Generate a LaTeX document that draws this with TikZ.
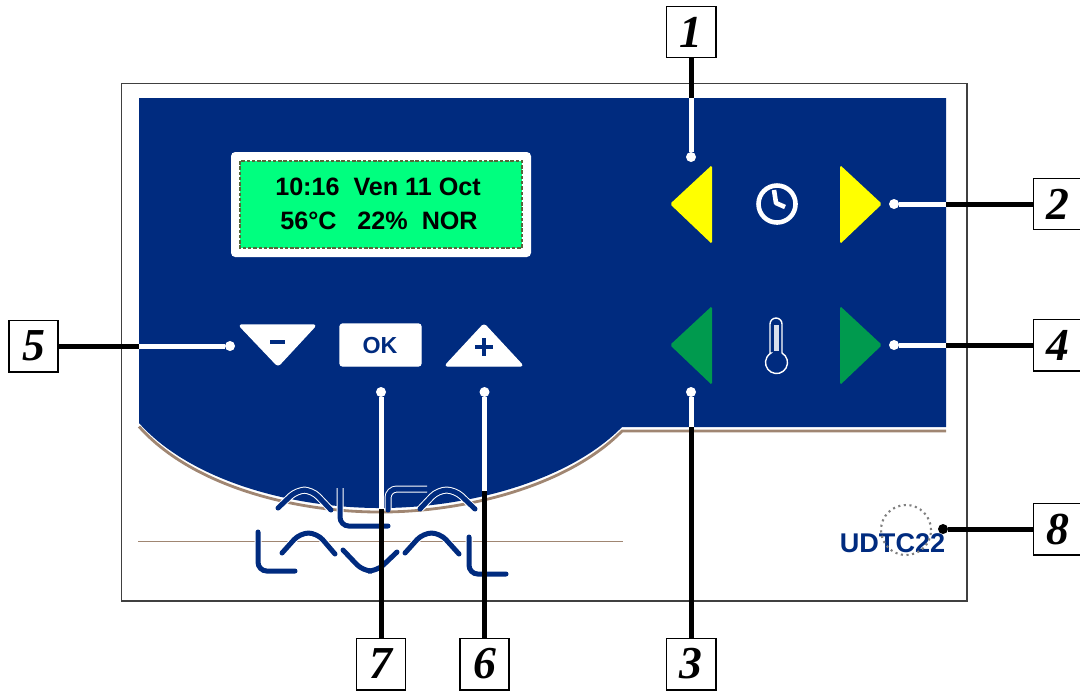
\documentclass[tikz,border=0pt]{standalone}
\usepackage{fontspec}
\setmainfont{Liberation Sans}
\newfontfamily\calloutfont{Liberation Serif}
\definecolor{panelblue}{HTML}{002B7F}
\definecolor{lcdgreen}{HTML}{00FF7F}
\definecolor{lcdedge}{HTML}{56663A}
\definecolor{trimtan}{HTML}{A08672}
\definecolor{btngreen}{HTML}{009A4E}
\definecolor{btnyellow}{HTML}{FFFF00}
\tikzset{
    callout/.style={draw=black,fill=white,line width=0.55pt,minimum width=0.49cm,minimum height=0.51cm,inner sep=0pt,outer sep=0pt,
        font=\calloutfont\bfseries\itshape\fontsize{13}{13}\selectfont},
    wiredark/.style={draw=black,line width=0.5mm},
    wirelight/.style={draw=white,line width=0.5mm},
    dotlight/.style={circle,fill=white,minimum size=0.1cm,inner sep=0pt,outer sep=0pt},
    dotdark/.style={circle,fill=black,minimum size=0.1cm,inner sep=0pt,outer sep=0pt},
    lcdtext/.style={font=\bfseries\fontsize{7.15}{8}\selectfont,inner sep=0pt},
    logostroke/.style={draw=panelblue,line width=0.5mm,line cap=round,rounded corners=2.5pt,
        preaction={draw=white,line width=0.7mm}},
    softbtn/.style={fill=white,draw=white,line width=0.4pt,rounded corners=0.8pt,line join=round},
}
\begin{document}
\begin{tikzpicture}[x=0.01cm,y=-0.01cm]
    \useasboundingbox (0,0) rectangle (1080,690);

    % Outer frame
    \draw[draw=black!75,line width=0.55pt] (121.5,83.5) rectangle (967,601);
    \draw[trimtan,line width=0.8pt] (139,426.5) .. controls (190,484) and (290,512) .. (380,512) .. controls (470,512) and (570,484) .. (622,431) -- (946,431);
    \draw[trimtan,line width=0.5pt] (138,541.5) -- (623,541.5);

    % Blue panel
    \fill[panelblue] (139,98) -- (946,98) -- (946,427) -- (622,427) .. controls (570,480) and (470,508) .. (380,508) .. controls (290,508) and (190,480) .. (139,423) -- cycle;

    % Display
    \fill[white,rounded corners=1.2pt] (231,152) rectangle (531,257);
    \draw[fill=lcdgreen,draw=lcdedge,line width=0.8pt,dash pattern=on 1pt off 0.5pt] (240,161) rectangle (522,248);
    \node[lcdtext] (timeline) at (378,186.5) {10:16\ \ Ven 11 Oct};
    \node[lcdtext] (templine) at (379,221) {56°C\ \ \ 22\%\ \ NOR};

    % Clock buttons
    \fill[btnyellow,rounded corners=0.5pt] (712,165) -- (712,244) -- (670,204) -- cycle;
    \fill[btnyellow,rounded corners=0.5pt] (840,165) -- (840,244) -- (882,204) -- cycle;
    \draw[white,line width=1.3pt] (777,204) circle (0.185cm);
    \draw[white,line width=1.3pt,line join=round] (774,190) -- (776,203) -- (785,207);

    % Temperature buttons
    \fill[btngreen,rounded corners=0.5pt] (712,306) -- (712,385) -- (670,345) -- cycle;
    \fill[btngreen,rounded corners=0.5pt] (840,306) -- (840,385) -- (882,345) -- cycle;
    \draw[white,line width=0.4pt] (770,353) -- (770,324) arc[start angle=180,end angle=0,x radius=6,y radius=-6] -- (782,353) arc[start angle=60,end angle=-240,x radius=11,y radius=-11] -- cycle;
    \fill[white!85!panelblue] (773.5,325) rectangle (778.5,351);

    % Minus, OK and plus
    \path[softbtn] (239,325) -- (316,325) -- (278,366) -- cycle;
    \draw[panelblue,line width=1.4pt] (270,342) -- (285,342);
    \path[softbtn] (340,324) rectangle (421,366);
    \node[font=\bfseries\fontsize{6.6}{8}\selectfont,text=panelblue,inner sep=0pt] (oklabel) at (380,345) {OK};
    \path[softbtn] (445,366) -- (523,366) -- (484,324) -- cycle;
    \draw[panelblue,line width=1pt] (475,347) -- (493,347);
    \draw[panelblue,line width=1pt] (484,338) -- (484,356);

    % Logo, top row
    \draw[logostroke] (278,508) -- (297,490) -- (312,490) -- (331,510);
    \draw[logostroke] (340,488) -- (340,526) -- (388,526);
    \draw[logostroke] (388,510) -- (388,489) -- (427,489);
    \draw[logostroke] (420,509) -- (438,490) -- (455,490) -- (475,509);
    % Logo, bottom row
    \draw[logostroke] (258,532) -- (258,571) -- (295,571);
    \draw[logostroke] (282,553) -- (300,533) -- (317,533) -- (335,554);
    \draw[logostroke] (343,550) -- (363,571) -- (377,571) -- (397,552);
    \draw[logostroke] (405,553) -- (423,533) -- (440,533) -- (459,554);
    \draw[logostroke] (469,537) -- (469,574) -- (506,574);

    % Model mark
    \node[font=\bfseries\fontsize{7.7}{8}\selectfont,text=panelblue,inner sep=0pt] (model) at (892.5,543) {UDTC22};
    \draw[gray,line width=0.6pt,densely dotted] (906,530) circle (0.25cm);

    % Numbered boxes
    \node[callout] (num1) at (691,32) {1};
    \node[callout] (num2) at (1058,204) {2};
    \node[callout] (num3) at (691,664) {3};
    \node[callout] (num4) at (1058,345) {4};
    \node[callout] (num5) at (33.5,346) {5};
    \node[callout] (num6) at (484.5,664) {6};
    \node[callout] (num7) at (381,664) {7};
    \node[callout] (num8) at (1058,529) {8};

    % Leader ends
    \node[dotlight] (end1) at (691,157) {};
    \node[dotlight] (end2) at (894,204) {};
    \node[dotlight] (end3) at (691,392) {};
    \node[dotlight] (end4) at (894,345) {};
    \node[dotlight] (end5) at (230,346) {};
    \node[dotlight] (end6) at (484.5,392) {};
    \node[dotlight] (end7) at (381,392) {};
    \node[dotdark] (end8) at (943,529) {};

    % Where the leaders enter the panel
    \coordinate (edge1) at (691,98);
    \coordinate (edge2) at (946,204);
    \coordinate (edge3) at (691,427);
    \coordinate (edge4) at (946,345);
    \coordinate (edge5) at (139,346);
    \coordinate (edge6) at (484.5,491);
    \coordinate (edge7) at (381,509);

    % Leaders
    \draw[wiredark] (num1) -- (edge1);
    \draw[wirelight] (edge1) -- (end1);
    \draw[wiredark] (num2) -- (edge2);
    \draw[wirelight] (edge2) -- (end2);
    \draw[wiredark] (num3) -- (edge3);
    \draw[wirelight] (edge3) -- (end3);
    \draw[wiredark] (num4) -- (edge4);
    \draw[wirelight] (edge4) -- (end4);
    \draw[wiredark] (num5) -- (edge5);
    \draw[wirelight] (edge5) -- (end5);
    \draw[wiredark] (num6) -- (edge6);
    \draw[wirelight] (edge6) -- (end6);
    \draw[wiredark] (num7) -- (edge7);
    \draw[wirelight] (edge7) -- (end7);
    \draw[wiredark] (num8) -- (end8);
\end{tikzpicture}
\end{document}
